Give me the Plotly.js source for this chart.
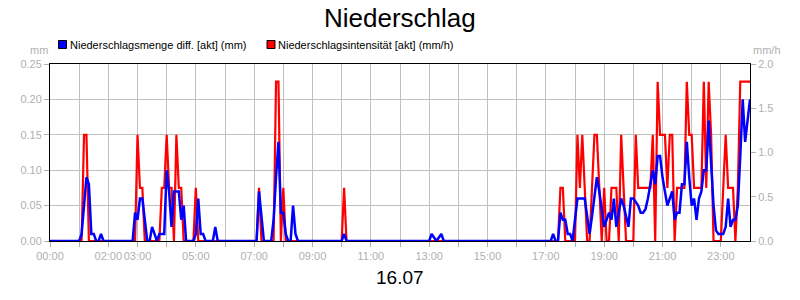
<!DOCTYPE html>
<html>
<head>
<meta charset="utf-8">
<script src="https://cdn.plot.ly/plotly-3.0.1.min.js"></script>
<style>
html,body{margin:0;padding:0;background:#fff;}
#chart{width:800px;height:300px;outline:1px solid #333;outline-offset:-1px;}
</style>
</head>
<body>
<div id="chart"></div>
<script>
// Niederschlagsmenge diff. [akt] (mm) – left axis
const mengeTimes = ["00:00","01:00","01:05","01:10","01:15","01:20","01:25","01:30","01:35","01:40","01:45","01:50",
"02:50","02:55","03:00","03:05","03:10","03:15","03:20","03:25","03:30","03:35","03:40","03:45","03:50","03:55",
"04:00","04:05","04:10","04:15","04:20","04:25","04:30","04:35","04:40","04:55","05:00","05:05","05:10","05:15","05:20",
"05:35","05:40","05:45","07:05","07:10","07:15","07:20","07:35","07:40","07:45","07:50","07:55","08:00","08:05","08:10",
"08:15","08:20","08:25","08:30","10:00","10:05","10:10","13:00","13:05","13:10","13:15","13:20","13:25","13:30",
"17:10","17:15","17:20","17:25","17:30","17:35","17:40","17:45","17:50","17:55","18:00","18:05","18:10","18:15","18:20",
"18:25","18:30","18:35","18:40","18:45","18:50","18:55","19:00","19:05","19:10","19:15","19:20","19:25","19:30","19:35",
"19:40","19:45","19:50","19:55","20:00","20:05","20:10","20:15","20:20","20:25","20:30","20:35","20:40","20:45","20:50",
"20:55","21:00","21:05","21:10","21:15","21:20","21:25","21:30","21:35","21:40","21:45","21:50","21:55","22:00","22:05",
"22:10","22:15","22:20","22:25","22:30","22:35","22:40","22:45","22:50","22:55","23:00","23:05","23:10","23:15","23:20",
"23:25","23:30","23:35","23:40","23:45","23:50","24:00"];
const mengeValues = [0,0,0.01,0.05,0.09,0.08,0.01,0.01,0,0,0.01,0,
0,0.04,0.03,0.06,0.06,0.03,0,0,0.02,0.01,0,0.01,0.01,0.01,
0.10,0.07,0.02,0.07,0.07,0.07,0.03,0.05,0,0,0.01,0.06,0.01,0.01,0,
0,0.02,0,0,0.07,0.035,0,0,0.03,0.09,0.14,0.04,0.04,0.01,0,
0,0.05,0.01,0,0,0.01,0,0,0.01,0.004,0,0.005,0.01,0,
0,0.01,0,0,0.04,0.03,0.03,0.01,0.01,0,0.03,0.06,0.06,0.06,0.06,
0.035,0.01,0.035,0.065,0.09,0.07,0.045,0.02,0.03,0.04,0.03,0.06,0.02,0.04,0.06,
0.05,0.035,0.02,0.06,0.06,0.055,0.05,0.04,0.04,0.045,0.06,0.08,0.10,0.08,0.12,
0.12,0.09,0.07,0.05,0.06,0.07,0.03,0.04,0.04,0.08,0.08,0.14,0.09,0.05,0.06,
0.03,0.06,0.07,0.10,0.10,0.17,0.11,0.05,0.015,0.01,0.01,0.01,0.02,0.06,0.02,
0.03,0.03,0.05,0.12,0.20,0.14,0.20];

// Niederschlagsintensität [akt] (mm/h) – right axis
const intensTimes = ["00:00","01:05","01:10","01:15","01:20","02:55","03:00","03:05","03:10","03:15","03:45","03:50","03:55",
"04:00","04:05","04:10","04:15","04:20","04:25","04:30","04:35","04:55","05:00","05:05","07:05","07:10","07:15","07:40",
"07:45","07:50","07:55","08:00","08:05","10:00","10:05","10:10","17:25","17:30","17:35","17:40","18:00","18:05","18:10",
"18:15","18:20","18:25","18:30","18:35","18:40","18:45","18:50","18:55","19:00","19:05","19:10","19:15","19:20","19:25",
"19:30","19:35","19:40","19:45","20:00","20:05","20:10","20:15","20:20","20:25","20:30","20:35","20:40","20:45","20:50",
"20:55","21:00","21:05","21:10","21:15","21:20","21:25","21:30","21:35","21:40","21:45","21:50","21:55","22:00","22:05",
"22:10","22:15","22:20","22:25","22:30","22:35","22:40","22:45","22:50","22:55","23:00","23:05","23:10","23:15","23:20",
"23:25","23:30","23:35","23:40","24:00"];
const intensValues = [0,0,1.2,1.2,0,0,1.2,0.6,0.6,0,0,0.6,0.6,
1.2,0.6,0.6,0,1.2,0.6,0.6,0,0,0.6,0,0,0.6,0,0,
1.8,1.8,0,0.6,0,0,0.6,0,0,0.6,0.6,0,0,1.2,0.6,
1.2,0.6,0,0,0.6,1.2,1.2,0.6,0,0.6,0,0,0.6,0.6,0.6,
0,1.2,0.6,0,0,1.2,0.6,0.6,0.6,0.6,0.6,0.6,1.2,0,1.8,
1.2,1.2,1.2,0.6,1.2,1.2,0,0.6,0.6,0.6,0.6,1.8,1.2,1.2,0.6,
0.6,0.6,0.6,1.8,0.6,1.8,1.2,0,0,0,0,0.6,1.2,0.6,0.6,
0.6,0,0.6,1.8,1.8];

const hourLabels = ["00:00","","02:00","03:00","","05:00","","07:00","","09:00","","11:00","","13:00","","15:00","","17:00","","19:00","","21:00","","23:00"];
const dateStr = "2024-07-16";

function toDate(t){
  if(t==="24:00") return "2024-07-17 00:00";
  return dateStr+" "+t;
}
const hourVals = hourLabels.map((_,i)=>dateStr+" "+String(i).padStart(2,"0")+":00");

const FONT = "Liberation Sans, Arial, sans-serif";
const GREY = "#b0b0b0";

const traces = [
  {x: intensTimes.map(toDate), y: intensValues, type:"scatter", mode:"lines",
   line:{color:"#ff0000", width:2.2}, yaxis:"y", hoverinfo:"skip", name:"Niederschlagsintensität [akt] (mm/h)"},
  {x: mengeTimes.map(toDate), y: mengeValues, type:"scatter", mode:"lines",
   line:{color:"#0000ff", width:2.5}, yaxis:"y2", hoverinfo:"skip", name:"Niederschlagsmenge diff. [akt] (mm)"}
];

const W=700, H=177;
function px(x){return (x-50)/W;}
function py(y){return (241-y)/H;}

const layout = {
  width:800, height:300,
  margin:{l:50, r:50, t:64, b:59, pad:0},
  paper_bgcolor:"#fff", plot_bgcolor:"#fff",
  showlegend:false,
  font:{family:FONT, size:11, color:GREY},
  xaxis:{type:"date", range:["2024-07-16 00:00","2024-07-17 00:00"],
    tickmode:"array", tickvals:hourVals, ticktext:hourLabels, tickangle:0,
    showgrid:true, gridcolor:"#c0c0c0", gridwidth:1,
    ticks:"outside", ticklen:5, tickcolor:GREY, tickfont:{family:FONT,size:11,color:GREY},
    showline:true, linecolor:"#000", linewidth:1, mirror:true, zeroline:false, fixedrange:true},
  yaxis:{range:[0,2], side:"right", tickmode:"array", tickvals:[0,0.5,1,1.5,2], tickformat:".1f",
    showgrid:false, ticks:"outside", ticklen:5, tickcolor:GREY, tickfont:{family:FONT,size:11,color:GREY},
    showline:true, linecolor:"#000", linewidth:1, mirror:true, zeroline:false, fixedrange:true},
  yaxis2:{range:[0,0.25], side:"left", overlaying:"y", tickmode:"array", tickvals:[0,0.05,0.1,0.15,0.2,0.25], tickformat:".2f",
    showgrid:true, gridcolor:"#c0c0c0", gridwidth:1, ticks:"outside", ticklen:5, tickcolor:GREY,
    tickfont:{family:FONT,size:11,color:GREY}, showline:false, zeroline:false, fixedrange:true},
  shapes:[
    {type:"rect", xref:"paper", yref:"paper", x0:px(58.5), x1:px(66.5), y0:py(48.5), y1:py(40.5),
     fillcolor:"#0000ff", line:{color:"#000", width:1}},
    {type:"rect", xref:"paper", yref:"paper", x0:px(267), x1:px(275), y0:py(48.5), y1:py(40.5),
     fillcolor:"#ff0000", line:{color:"#000", width:1}}
  ],
  annotations:[
    {text:"Niederschlag", xref:"paper", yref:"paper", x:0.5, y:py(17.5), xanchor:"center", yanchor:"middle",
     showarrow:false, font:{family:FONT, size:26, color:"#000"}},
    {text:"16.07", xref:"paper", yref:"paper", x:0.5, y:py(277), xanchor:"center", yanchor:"middle",
     showarrow:false, font:{family:FONT, size:19, color:"#000"}},
    {text:"mm", xref:"paper", yref:"paper", x:px(50), y:py(50), xanchor:"right", yanchor:"middle",
     showarrow:false, font:{family:FONT, size:11, color:GREY}},
    {text:"mm/h", xref:"paper", yref:"paper", x:px(751), y:py(50), xanchor:"left", yanchor:"middle",
     showarrow:false, font:{family:FONT, size:11, color:GREY}},
    {text:"Niederschlagsmenge diff. [akt] (mm)", xref:"paper", yref:"paper", x:px(67.5), y:py(44.5), xanchor:"left", yanchor:"middle",
     showarrow:false, font:{family:FONT, size:11, color:"#000"}},
    {text:"Niederschlagsintensität [akt] (mm/h)", xref:"paper", yref:"paper", x:px(276), y:py(44.5), xanchor:"left", yanchor:"middle",
     showarrow:false, font:{family:FONT, size:11, color:"#000"}}
  ]
};

Plotly.newPlot("chart", traces, layout, {displayModeBar:false, staticPlot:true});
</script>
</body>
</html>
